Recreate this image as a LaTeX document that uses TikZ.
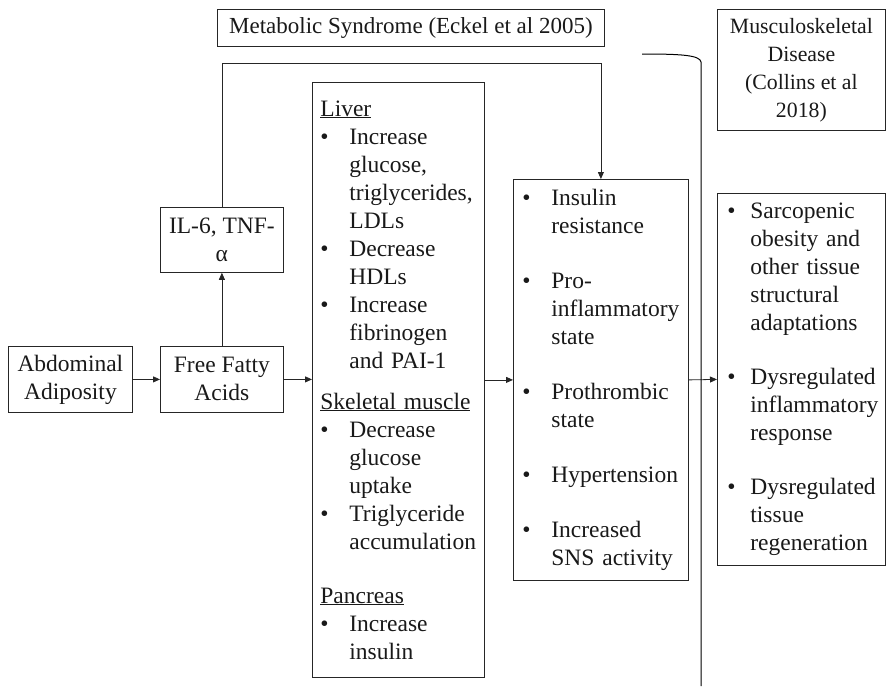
\documentclass[tikz,border=0pt]{standalone}
\usepackage{fontspec}
\setmainfont{Liberation Serif}
\usetikzlibrary{arrows.meta,positioning}
% bullet and hanging indent for the list boxes
\newcommand{\bul}[1]{\makebox[#1][l]{\textbullet}}
\newcommand{\ind}[1]{\hspace*{#1}}

\begin{document}
\begin{tikzpicture}[x=1pt, y=-1pt,
  box/.style={draw=black!85, line width=0.8pt, anchor=north west, inner sep=0pt,
    font=\fontsize{23.5}{28}\selectfont, text=black!90},
  ctr/.style={box, align=center},
  lst/.style={box, align=left,
    execute at begin node={\hyphenpenalty=10000\exhyphenpenalty=10000}},
  conn/.style={draw=black!85, line width=0.8pt, -{Triangle[length=7pt,width=6pt]}}]
  \useasboundingbox (0,0) rectangle (886,686);
  % headings of the two halves
  \node[ctr, minimum width=387pt, minimum height=37pt, font=\fontsize{23}{28}\selectfont]
    (title) at (217,9) {Metabolic Syndrome (Eckel et al 2005)};
  \node[ctr, minimum width=168pt, minimum height=121pt, font=\fontsize{21.8}{28}\selectfont]
    (msk) at (717,9) {Musculoskeletal\\Disease\\(Collins et al\\2018)};
  % chain on the left
  \node[ctr, minimum width=124pt, minimum height=66pt] (abd) at (8,346)
    {Abdominal\\Adiposity};
  \node[ctr, minimum width=123pt, minimum height=66pt] (ffa) at (160,346)
    {Free Fatty\\Acids};
  \node[ctr, minimum width=123pt, minimum height=65pt] (cyto) at (160,207)
    {IL-6, TNF-\\α};
  % organ effects
  \node[lst, inner xsep=8pt, text width=156pt, minimum width=172pt, minimum height=595pt]
    (liver) at (312,82) {%
    \underline{Liver}\\
    \bul{29pt}Increase\\
    \ind{29pt}glucose,\\
    \ind{29pt}triglycerides,\\
    \ind{29pt}LDLs\\
    \bul{29pt}Decrease\\
    \ind{29pt}HDLs\\
    \bul{29pt}Increase\\
    \ind{29pt}fibrinogen\\
    \ind{29pt}and PAI-1\\[13pt]
    \underline{Skeletal muscle}\\
    \bul{29pt}Decrease\\
    \ind{29pt}glucose\\
    \ind{29pt}uptake\\
    \bul{29pt}Triglyceride\\
    \ind{29pt}accumulation\\[26pt]
    \underline{Pancreas}\\
    \bul{29pt}Increase\\
    \ind{29pt}insulin};
  % metabolic syndrome features
  \node[lst, inner xsep=9pt, text width=157pt, minimum width=175pt, minimum height=401pt]
    (mets) at (513,179) {%
    \bul{29pt}Insulin\\
    \ind{29pt}resistance\\[27pt]
    \bul{29pt}Pro-\\
    \ind{29pt}inflammatory\\
    \ind{29pt}state\\[27pt]
    \bul{29pt}Prothrombic\\
    \ind{29pt}state\\[27pt]
    \bul{29pt}Hypertension\\[27pt]
    \bul{29pt}Increased\\
    \ind{29pt}SNS activity};
  % musculoskeletal outcomes
  \node[lst, inner xsep=10pt, text width=148pt, minimum width=168pt, minimum height=372pt]
    (outc) at (717,193) {%
    \bul{23pt}Sarcopenic\\
    \ind{23pt}obesity and\\
    \ind{23pt}other tissue\\
    \ind{23pt}structural\\
    \ind{23pt}adaptations\\[26pt]
    \bul{23pt}Dysregulated\\
    \ind{23pt}inflammatory\\
    \ind{23pt}response\\[26pt]
    \bul{23pt}Dysregulated\\
    \ind{23pt}tissue\\
    \ind{23pt}regeneration};
  % connectors
  \draw[conn] (abd) -- (ffa);
  \draw[conn] (ffa.east) -- (liver.west |- ffa.east);
  \draw[conn] (ffa.north) -- (cyto.south);
  \draw[conn] (cyto.north) -- ++(0,-144) -| (mets.north);
  \draw[conn] (liver.east) -- (mets.west);
  \draw[conn] (mets.east) -- (outc.west);
  % bracket closing the metabolic syndrome half
  \draw[draw=black, line width=1pt] (642,54) .. controls (680,54) and (700,55) .. (701,62) -- (701,686);
\end{tikzpicture}
\end{document}
